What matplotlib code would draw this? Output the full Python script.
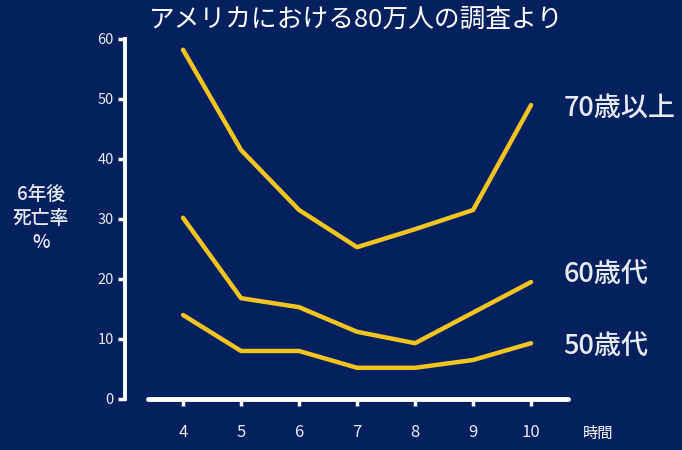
import matplotlib.pyplot as plt

plt.rcParams['font.family'] = ['Noto Sans CJK JP', 'DejaVu Sans']

hours = [4, 5, 6, 7, 8, 9, 10]
over70 = [58.2, 41.5, 31.5, 25.3, 28.3, 31.5, 49.0]
age60s = [30.2, 16.8, 15.3, 11.2, 9.3, 14.4, 19.5]
age50s = [14.0, 8.0, 8.0, 5.2, 5.2, 6.5, 9.3]
labels = ['70歳以上', '60歳代', '50歳代']
label_y = [48.5, 20.7, 8.7]

bg = '#04205e'
gold = '#f2c51e'
txt = '#e8ecf2'

fig = plt.figure(figsize=(6.82, 4.5), dpi=100, facecolor=bg)
ax = fig.add_axes([0.1833, 0.0867, 0.655, 0.84], facecolor=bg)

for series in (over70, age60s, age50s):
    ax.plot(hours, series, color=gold, lw=3.2, solid_capstyle='round',
            solid_joinstyle='round')

for name, yy in zip(labels, label_y):
    ax.text(10.56, yy, name, color=txt, fontsize=19.5, fontweight='medium',
            ha='left', va='center', clip_on=False)

ax.set_xlim(3.0, 10.7)
ax.set_ylim(-2, 61)
ax.set_xticks(hours)
ax.set_yticks(range(0, 61, 10))

for s in ('top', 'right'):
    ax.spines[s].set_visible(False)
ax.spines['left'].set_bounds(0, 60)
ax.spines['left'].set_color('white')
ax.spines['left'].set_linewidth(2.8)
ax.spines['bottom'].set_position(('data', 0))
ax.spines['bottom'].set_bounds(3.4, 10.64)
ax.spines['bottom'].set_color('white')
ax.spines['bottom'].set_linewidth(3.5)
ax.spines['bottom'].set_capstyle('round')

ax.tick_params(axis='y', colors='white', labelcolor=txt, length=5, width=2.5,
               labelsize=10.5, pad=3)
ax.tick_params(axis='x', colors='white', labelcolor=txt, length=5, width=2.5,
               labelsize=12, pad=13)

fig.text(0.522, 0.955, 'アメリカにおける80万人の調査より', color='white',
         fontsize=18.5, ha='center', va='center')
fig.text(0.06, 0.515, '6年後\n死亡率\n%', color=txt, fontsize=13.5,
         fontweight='medium', ha='center', va='center', linespacing=1.35)
fig.text(0.855, 0.036, '時間', color='white', fontsize=11, ha='left',
         va='center')

fig.savefig('out.png', dpi=100, facecolor=bg)
